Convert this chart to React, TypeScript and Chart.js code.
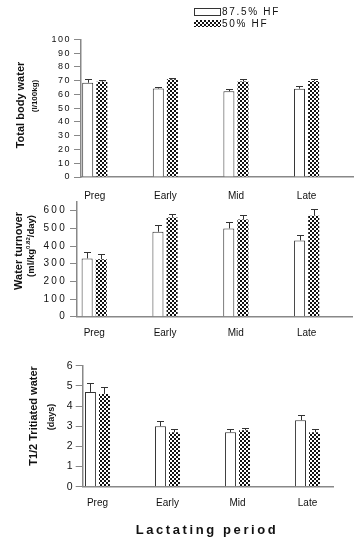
import React, { useEffect, useRef } from 'react';
import { Chart, registerables } from 'chart.js';
Chart.register(...registerables);

const categories = ['Preg', 'Early', 'Mid', 'Late'];
const seriesNames = ['87.5% HF', '50% HF'];

const tbwHF875 = [68.5, 64.3, 62.3, 64.2];
const tbwHF875Err = [2.4, 0.8, 1.9, 1.7];
const tbwHF50 = [69.2, 71.0, 69.4, 69.8];
const tbwHF50Err = [1.5, 0.8, 1.6, 1.2];

const wtHF875 = [330, 481, 500, 432];
const wtHF875Err = [38, 36, 36, 29];
const wtHF50 = [325, 562, 551, 572];
const wtHF50Err = [30, 21, 26, 38];

const t12HF875 = [4.7, 3.0, 2.7, 3.3];
const t12HF875Err = [0.42, 0.26, 0.15, 0.25];
const t12HF50 = [4.6, 2.7, 2.8, 2.7];
const t12HF50Err = [0.33, 0.15, 0.13, 0.15];

const FONT = 'Liberation Sans, Arial, sans-serif';
const W = 360;
const H = 544;

function makePattern(ctx: CanvasRenderingContext2D) {
  const c = document.createElement('canvas');
  c.width = 4;
  c.height = 4;
  const p = c.getContext('2d')!;
  p.fillStyle = '#ffffff';
  p.fillRect(0, 0, 4, 4);
  p.fillStyle = '#111111';
  p.fillRect(0, 0, 2, 2);
  p.fillRect(2, 2, 2, 2);
  return ctx.createPattern(c, 'repeat')!;
}

const errorBarsPlugin = {
  id: 'errorBars',
  afterDatasetsDraw(chart: any, _args: any, opts: any) {
    const ctx = chart.ctx;
    const ys = chart.scales.y;
    const errs: number[][] = opts.errors || [];
    chart.data.datasets.forEach((ds: any, di: number) => {
      const meta = chart.getDatasetMeta(di);
      meta.data.forEach((bar: any, i: number) => {
        const v = ds.data[i].y;
        const e = errs[di]?.[i] ?? 0;
        const top = ys.getPixelForValue(v + e);
        const x = Math.round(bar.x) + 0.5;
        const yt = Math.round(top) + 0.5;
        ctx.save();
        ctx.strokeStyle = '#333';
        ctx.lineWidth = 1;
        ctx.beginPath();
        ctx.moveTo(x, bar.y);
        ctx.lineTo(x, yt);
        ctx.moveTo(x - 3.5, yt);
        ctx.lineTo(x + 3.5, yt);
        ctx.stroke();
        ctx.restore();
      });
    });
  },
};

const spacingPlugin = {
  id: 'tickSpacing',
  beforeDraw(chart: any, _a: any, opts: any) {
    const s = chart.scales.y;
    if (s && !s.__patched) {
      const orig = s.drawLabels.bind(s);
      s.drawLabels = (area: any) => {
        const ctx = chart.ctx;
        ctx.save();
        (ctx as any).letterSpacing = (opts.spacing || 0) + 'px';
        orig(area);
        ctx.restore();
      };
      s.__patched = true;
    }
  },
};

type TextItem = {
  parts: { t: string; size: number; bold?: boolean; dy?: number }[];
  x: number;
  y: number;
  rotate?: boolean;
  spacing?: number;
};

const textPlugin = {
  id: 'texts',
  afterDraw(chart: any, _a: any, opts: any) {
    const ctx: CanvasRenderingContext2D = chart.ctx;
    const items: TextItem[] = opts.items || [];
    items.forEach((it) => {
      ctx.save();
      (ctx as any).letterSpacing = (it.spacing || 0) + 'px';
      ctx.fillStyle = '#111';
      ctx.textBaseline = 'middle';
      ctx.textAlign = 'left';
      let total = 0;
      const widths = it.parts.map((p) => {
        ctx.font = `${p.bold ? 'bold ' : ''}${p.size}px ${FONT}`;
        const w = ctx.measureText(p.t).width;
        total += w;
        return w;
      });
      ctx.translate(it.x, it.y);
      if (it.rotate) ctx.rotate(-Math.PI / 2);
      let cx = -total / 2;
      it.parts.forEach((p, i) => {
        ctx.font = `${p.bold ? 'bold ' : ''}${p.size}px ${FONT}`;
        ctx.fillText(p.t, cx, p.dy || 0);
        cx += widths[i];
      });
      ctx.restore();
    });
  },
};

const legendPlugin = {
  id: 'customLegend',
  afterDraw(chart: any, _a: any, opts: any) {
    if (!opts.show) return;
    const ctx: CanvasRenderingContext2D = chart.ctx;
    const pattern = opts.pattern;
    ctx.save();
    ctx.fillStyle = '#fff';
    ctx.fillRect(194, 8, 26, 7);
    ctx.strokeStyle = '#333';
    ctx.lineWidth = 1;
    ctx.strokeRect(194.5, 8.5, 26, 7);
    ctx.fillStyle = pattern;
    ctx.fillRect(194, 20, 27, 7);
    ctx.font = `10px ${FONT}`;
    (ctx as any).letterSpacing = '1.7px';
    ctx.fillStyle = '#111';
    ctx.textBaseline = 'middle';
    ctx.textAlign = 'left';
    ctx.fillText(seriesNames[0], 222, 12);
    ctx.fillText(seriesNames[1], 222, 24);
    ctx.restore();
  },
};

type Cfg = {
  a: number[];
  aErr: number[];
  b: number[];
  bErr: number[];
  yMax: number;
  yStep: number;
  yTickMax: number;
  L: number;
  T: number;
  R: number;
  B: number;
  xMin: number;
  xMax: number;
  xPad: number;
  tickSize: number;
  tickSpacing: number;
  texts: TextItem[];
  legend?: boolean;
};

function buildChart(canvas: HTMLCanvasElement, cfg: Cfg) {
  const ctx = canvas.getContext('2d')!;
  const pattern = makePattern(ctx);
  return new Chart(ctx, {
    type: 'bar',
    data: {
      datasets: [
        {
          label: seriesNames[0],
          data: cfg.a.map((v, i) => ({ x: i, y: v })),
          backgroundColor: '#ffffff',
          borderColor: '#333333',
          borderWidth: 1,
          categoryPercentage: 0.4,
          barPercentage: 0.78,
        } as any,
        {
          label: seriesNames[1],
          data: cfg.b.map((v, i) => ({ x: i, y: v })),
          backgroundColor: pattern,
          borderColor: '#222222',
          borderWidth: 0,
          categoryPercentage: 0.4,
          barPercentage: 0.78,
        } as any,
      ],
    },
    options: {
      animation: false,
      responsive: false,
      maintainAspectRatio: false,
      devicePixelRatio: 1,
      layout: { padding: { top: cfg.T, left: 0, right: W - cfg.R, bottom: 0 } },
      plugins: {
        legend: { display: false },
        tooltip: { enabled: false },
        errorBars: { errors: [cfg.aErr, cfg.bErr] },
        tickSpacing: { spacing: cfg.tickSpacing },
        texts: { items: cfg.texts },
        customLegend: { show: !!cfg.legend, pattern },
      } as any,
      scales: {
        x: {
          type: 'linear',
          min: cfg.xMin,
          max: cfg.xMax,
          offset: false,
          grid: { display: false, drawTicks: false },
          border: { display: true, color: '#888', width: 1.5 },
          ticks: {
            autoSkip: false,
            maxRotation: 0,
            padding: cfg.xPad,
            color: '#111',
            font: { family: FONT, size: 10 },
            callback: (v: any) => categories[v] ?? '',
          },
          afterBuildTicks: (s: any) => {
            s.ticks = categories.map((_, i) => ({ value: i }));
          },
          afterFit: (s: any) => {
            s.height = H - cfg.B;
          },
        },
        y: {
          type: 'linear',
          min: 0,
          max: cfg.yMax,
          grid: {
            display: true,
            drawOnChartArea: false,
            drawTicks: true,
            tickLength: 7,
            color: '#888',
            lineWidth: 1,
          },
          border: { display: true, color: '#888', width: 1.5 },
          ticks: {
            autoSkip: false,
            stepSize: cfg.yStep,
            padding: 3,
            color: '#111',
            font: { family: FONT, size: cfg.tickSize },
          },
          afterBuildTicks: (s: any) => {
            const t: { value: number }[] = [];
            for (let v = 0; v <= cfg.yTickMax + 1e-9; v += cfg.yStep) t.push({ value: v });
            s.ticks = t;
          },
          afterFit: (s: any) => {
            s.width = cfg.L;
          },
        },
      } as any,
    },
    plugins: [errorBarsPlugin, spacingPlugin, textPlugin, legendPlugin],
  });
}

const configs: Cfg[] = [
  {
    a: tbwHF875,
    aErr: tbwHF875Err,
    b: tbwHF50,
    bErr: tbwHF50Err,
    yMax: 100,
    yStep: 10,
    yTickMax: 100,
    L: 81,
    T: 39.4,
    R: 353,
    B: 177,
    xMin: -0.195,
    xMax: 3.658,
    xPad: 13,
    tickSize: 9,
    tickSpacing: 1.5,
    legend: true,
    texts: [
      { parts: [{ t: 'Total body water', size: 11, bold: true }], x: 21, y: 105, rotate: true },
      { parts: [{ t: '(l/100kg)', size: 8, bold: true }], x: 35, y: 96, rotate: true },
    ],
  },
  {
    a: wtHF875,
    aErr: wtHF875Err,
    b: wtHF50,
    bErr: wtHF50Err,
    yMax: 650,
    yStep: 100,
    yTickMax: 600,
    L: 77,
    T: 201.9,
    R: 352.7,
    B: 316.7,
    xMin: -0.243,
    xMax: 3.65,
    xPad: 11,
    tickSize: 10,
    tickSpacing: 2.3,
    texts: [
      { parts: [{ t: 'Water turnover', size: 11, bold: true }], x: 19, y: 251, rotate: true },
      {
        parts: [
          { t: '(ml/kg', size: 9.5, bold: true },
          { t: '0.82', size: 6, bold: true, dy: -3 },
          { t: '/day)', size: 9.5, bold: true },
        ],
        x: 31.5,
        y: 246,
        rotate: true,
      },
    ],
  },
  {
    a: t12HF875,
    aErr: t12HF875Err,
    b: t12HF50,
    bErr: t12HF50Err,
    yMax: 6,
    yStep: 1,
    yTickMax: 6,
    L: 82.7,
    T: 365.7,
    R: 333,
    B: 486.7,
    xMin: -0.211,
    xMax: 3.364,
    xPad: 11,
    tickSize: 10.5,
    tickSpacing: 0,
    texts: [
      { parts: [{ t: 'T1/2 Tritiated water', size: 11, bold: true }], x: 33.5, y: 416, rotate: true },
      { parts: [{ t: '(days)', size: 9, bold: true }], x: 52, y: 417, rotate: true },
      { parts: [{ t: 'Lactating period', size: 13, bold: true }], x: 207, y: 530, spacing: 2.6 },
    ],
  },
];

function ChartCanvas({ cfg }: { cfg: Cfg }) {
  const ref = useRef<HTMLCanvasElement>(null);
  useEffect(() => {
    if (!ref.current) return;
    const chart = buildChart(ref.current, cfg);
    return () => chart.destroy();
  }, [cfg]);
  return (
    <canvas
      ref={ref}
      width={W}
      height={H}
      style={{ position: 'absolute', left: 0, top: 0, width: W, height: H }}
    />
  );
}

export default function App() {
  return (
    <div
      style={{
        position: 'absolute',
        left: 0,
        top: 0,
        width: W,
        height: H,
        background: '#ffffff',
        overflow: 'hidden',
      }}
    >
      {configs.map((c, i) => (
        <ChartCanvas key={i} cfg={c} />
      ))}
    </div>
  );
}
